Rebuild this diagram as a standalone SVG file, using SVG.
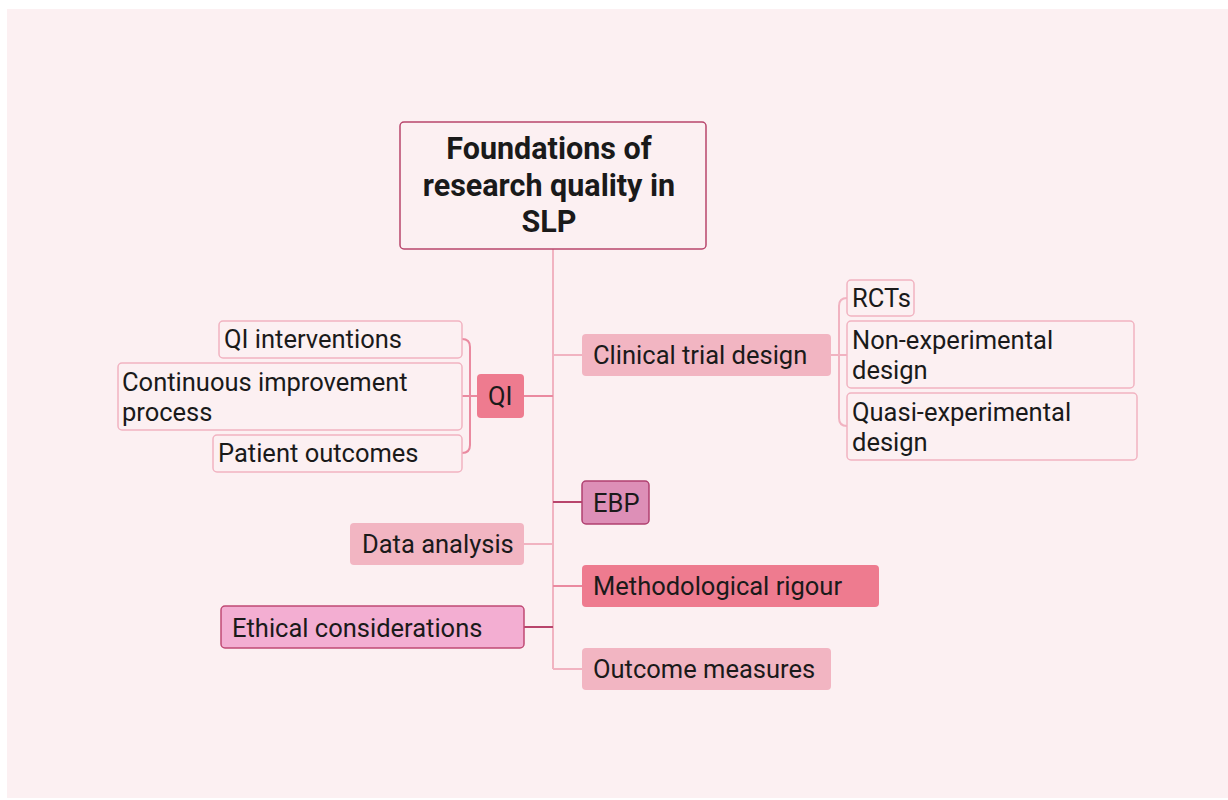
<svg xmlns="http://www.w3.org/2000/svg" width="1228" height="800" viewBox="0 0 1228 800">
<style>
text{font-family:Roboto,"Liberation Sans",sans-serif;fill:#1a1a1a;font-size:25.5px}
.title{font-weight:bold;font-size:30.5px;text-anchor:middle}
.leaf{fill:#fcf0f2;stroke:#f1b3c1;stroke-width:1.5}
.light{fill:#f2b5c2}
.strong{fill:#ee7b8f}
.c{fill:none;stroke-width:2}
.cl{stroke:#f1b3c1}
.cm{stroke:#ea8aa0}
.cd{stroke:#b8456c}
</style>
<rect x="0" y="0" width="1228" height="800" fill="#ffffff"/>
<rect x="7" y="9" width="1221" height="789" fill="#fcf0f2"/>
<g id="connectors">
<path class="c cl" d="M553 249 V669"/>
<path class="c cl" d="M553 355 H582"/>
<path class="c cm" d="M553 396 H524"/>
<path class="c cd" d="M553 502 H582"/>
<path class="c cl" d="M553 544 H524"/>
<path class="c cm" d="M553 586 H582"/>
<path class="c cd" d="M553 627 H524"/>
<path class="c cl" d="M553 669 H582"/>
<path class="c cl" d="M831 355 H847 M847 298 Q839 298 839 306 V418 Q839 426 847 426"/>
<path class="c cm" d="M477 396 H462 M462 339 Q470 339 470 347 V445 Q470 453 462 453"/>
</g>
<g id="root">
<rect x="400" y="122" width="306" height="127" rx="4" fill="#fcf0f2" stroke="#b8456c" stroke-width="1.5"/>
<text class="title" x="549" y="159">Foundations of</text>
<text class="title" x="549" y="196">research quality in</text>
<text class="title" x="549" y="232">SLP</text>
</g>
<g id="clinical">
<rect class="light" x="582" y="334" width="249" height="42" rx="4"/>
<text x="593" y="364">Clinical trial design</text>
</g>
<g id="rcts">
<rect class="leaf" x="847" y="280" width="67" height="36" rx="4"/>
<text x="852" y="307">RCTs</text>
</g>
<g id="nonexp">
<rect class="leaf" x="847" y="321" width="287" height="67" rx="4"/>
<text x="852" y="349">Non-experimental</text>
<text x="852" y="379">design</text>
</g>
<g id="quasi">
<rect class="leaf" x="847" y="393" width="290" height="67" rx="4"/>
<text x="852" y="421">Quasi-experimental</text>
<text x="852" y="451">design</text>
</g>
<g id="qi">
<rect class="strong" x="477" y="374" width="47" height="44" rx="4"/>
<text x="488" y="405">QI</text>
</g>
<g id="qi-interventions">
<rect class="leaf" x="219" y="321" width="243" height="37" rx="4"/>
<text x="224" y="348">QI interventions</text>
</g>
<g id="continuous">
<rect class="leaf" x="118" y="363" width="344" height="67" rx="4"/>
<text x="122" y="391">Continuous improvement</text>
<text x="122" y="421">process</text>
</g>
<g id="patient">
<rect class="leaf" x="213" y="435" width="249" height="37" rx="4"/>
<text x="218" y="462">Patient outcomes</text>
</g>
<g id="ebp">
<rect x="582" y="481" width="67" height="43" rx="4" fill="#dd8fb7" stroke="#b04070" stroke-width="1.5"/>
<text x="593" y="512">EBP</text>
</g>
<g id="data">
<rect class="light" x="350" y="523" width="174" height="42" rx="4"/>
<text x="362" y="553">Data analysis</text>
</g>
<g id="rigour">
<rect class="strong" x="582" y="565" width="297" height="42" rx="4"/>
<text x="593" y="595">Methodological rigour</text>
</g>
<g id="ethical">
<rect x="221" y="606" width="303" height="42" rx="4" fill="#f3aed2" stroke="#c04a74" stroke-width="1.5"/>
<text x="232" y="637">Ethical considerations</text>
</g>
<g id="outcome">
<rect class="light" x="582" y="648" width="249" height="42" rx="4"/>
<text x="593" y="678">Outcome measures</text>
</g>
</svg>
